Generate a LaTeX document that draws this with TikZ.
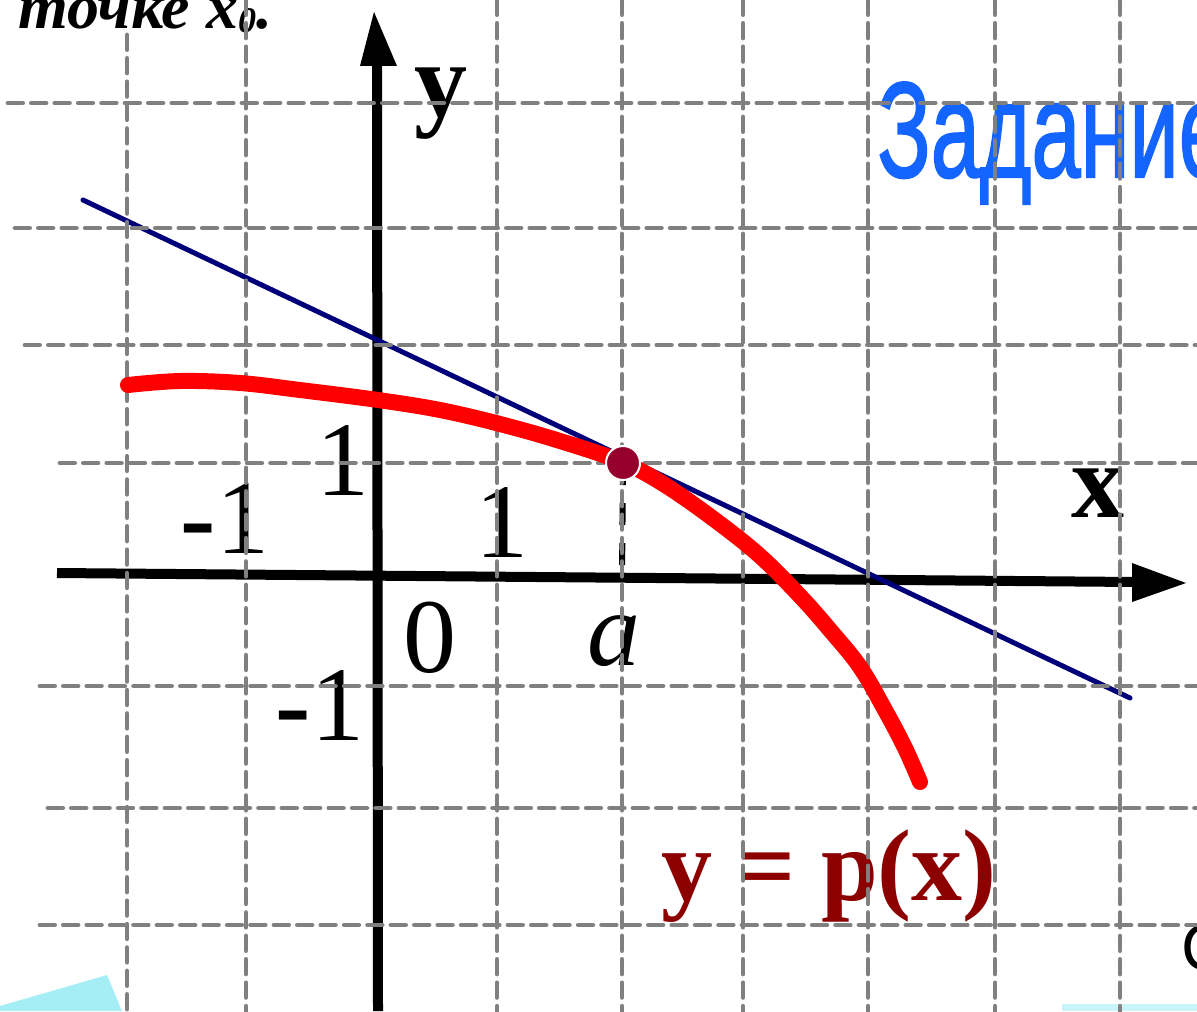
\documentclass[tikz,border=0pt]{standalone}
\usepackage{fontspec}
\setmainfont{Liberation Serif}
\newfontfamily\arialf{Liberation Sans}
\newfontfamily\arialbf[FakeBold=1.6]{Liberation Sans}
\usepackage{graphicx}
\definecolor{gridgray}{RGB}{128,128,128}
\definecolor{curvered}{RGB}{255,0,0}
\definecolor{tanblue}{RGB}{0,0,120}
\definecolor{ptred}{RGB}{150,0,45}
\definecolor{lblred}{RGB}{140,0,0}
\definecolor{zblue}{RGB}{20,100,255}
\definecolor{cyanish}{RGB}{165,238,246}
\begin{document}
\begin{tikzpicture}[x=0.5pt,y=-0.5pt,
  gridline/.style={draw=gridgray, line width=2.4pt, dash pattern=on 7.3pt off 4.4pt, line cap=round},
  axisline/.style={line width=5pt, black},
  lbl/.style={inner sep=0pt, anchor=base, font=\fontsize{53}{53}\selectfont},
  boldlbl/.style={inner sep=0pt, anchor=base, font=\bfseries\fontsize{53}{53}\selectfont}]
\useasboundingbox (0,0) rectangle (1197,1011);
\clip (0,0) rectangle (1197,1011);
% cyan decorations
\fill[cyanish] (0,1011) -- (0,1006) -- (107,975) -- (122,1011) -- cycle;
\fill[cyanish!60!white] (1062,1004) rectangle (1197,1011);
% texts
\node[anchor=base west, inner sep=0pt, font=\bfseries\itshape\fontsize{32}{32}\selectfont] (tochke) at (18,29) {точке x\raisebox{-2pt}{\fontsize{18}{18}\selectfont 0}.};
\node[anchor=base west, inner sep=0pt, text=zblue, font=\arialbf\fontsize{68}{68}\selectfont] (zad) at (877,177) {\scalebox{0.65}[1]{Задание}};
\node[anchor=base west, inner sep=0pt, font=\arialf\fontsize{33}{33}\selectfont] (cc) at (1181,970) {С};
\node[lbl] (m1x) at (225,553) {\textbf{-}1};
\node[lbl] (oney) at (343,495) {1};
\node[lbl] (onex) at (502,557) {1};
\node[lbl] (zero) at (430,672) {0};
\node[lbl] (m1y) at (320,740) {\textbf{-}1};
\node[lbl] (alab) at (614,665) {\itshape a};
\node[boldlbl] (ylab) at (441,117) {y};
\node[boldlbl] (xlab) at (1098,517) {x};
\node[inner sep=0pt, anchor=base, text=lblred, font=\bfseries\fontsize{51}{51}\selectfont] (plab) at (829,900) {y = p(x)};
% point coordinates
\coordinate (A) at (623,463);
\coordinate (Afoot) at (622,578);
\draw[black, line width=3pt, dash pattern=on 11pt off 9pt] (A) -- (Afoot);
% axes
\coordinate (xs) at (57,573);
\coordinate (xe) at (1136,582);
\coordinate (ys) at (378,1011);
\coordinate (ye) at (377,62);
\draw[axisline] (xs) -- (xe);
\fill[black] (1186,583) -- (1132,563) -- (1132,602) -- cycle;
\draw[axisline] (ys) -- (ye);
\fill[black] (374,12) -- (397,66) -- (360,66) -- cycle;
% tangent
\coordinate (t1) at (83,200);
\coordinate (t2) at (1130,698);
\draw[tanblue, line width=2.5pt, line cap=round] (t1) -- (t2);
% grid
\foreach \x/\ys in {127/35, 246/0, 497/0, 622/0, 743/0, 868/0, 995/0, 1120/0}
  \draw[gridline] (\x,\ys) -- (\x,1015);
\foreach \y/\xs in {103/8, 228/15, 345/25, 463/60, 686/40, 808/48, 925/40}
  \draw[gridline] (\xs,\y) -- (1200,\y);
% curve
\draw[curvered, line width=8pt, line cap=round, line join=round] plot[smooth, tension=0.6] coordinates {
 (128,385) (180,381) (240,383) (300,390) (378,400) (440,410) (500,424) (560,441) (622,462) (665,485) (715,520) (760,556) (800,596) (830,630) (860,667) (885,710) (905,748) (920,782)};
% point
\node[circle, fill=ptred, draw=white, line width=1pt, minimum size=17pt, inner sep=0pt] (P) at (A) {};
\end{tikzpicture}
\end{document}
